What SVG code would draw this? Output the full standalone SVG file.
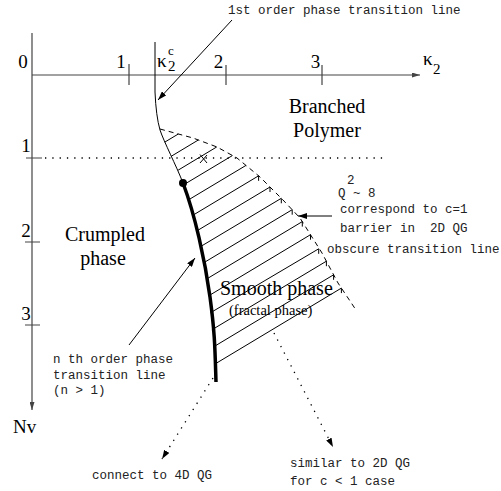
<svg xmlns="http://www.w3.org/2000/svg" width="501" height="491" viewBox="0 0 501 491">
<style>
.ax{stroke:#444;stroke-width:1.2;fill:none}
.thin{stroke:#000;stroke-width:1;fill:none}
.thick{stroke:#000;stroke-width:3.5;fill:none;stroke-linecap:butt}
.dash{stroke:#000;stroke-width:1;fill:none;stroke-dasharray:5,4}
.dot{stroke:#000;stroke-width:1.3;fill:none;stroke-dasharray:1.3,6}
.hatch{stroke:#000;stroke-width:1;fill:none}
.serif{font-family:"Liberation Serif","Times New Roman",serif;fill:#000}
.mono{font-family:"Liberation Mono","Courier New",monospace;font-size:12.5px;fill:#222}
.big{font-size:20px}
.num{font-size:19px}
</style>
<defs>
<marker id="arr" markerUnits="userSpaceOnUse" markerWidth="9" markerHeight="6" refX="9" refY="3" orient="auto">
<path d="M0,0 L9,3 L0,6 z" fill="#000"/>
</marker>
<marker id="arrAx" markerUnits="userSpaceOnUse" markerWidth="8" markerHeight="5" refX="8" refY="2.5" orient="auto">
<path d="M0,0 L8,2.5 L0,5 z" fill="#444"/>
</marker>
</defs>

<g id="axes">
<path class="ax" d="M32,75 H420" marker-end="url(#arrAx)"/>
<path class="ax" d="M32,33 V410" marker-end="url(#arrAx)"/>
<path class="ax" d="M129,64 V85 M226,65 V85 M322,65 V85"/>
<path class="ax" d="M26,158 H42 M25,242 H40 M25,325 H40"/>
<text class="serif num" x="23" y="68" text-anchor="middle">0</text>
<text class="serif num" x="121" y="68" text-anchor="middle">1</text>
<text class="serif num" x="218.5" y="68" text-anchor="middle">2</text>
<text class="serif num" x="315.5" y="68" text-anchor="middle">3</text>
<text class="serif num" x="26" y="152" text-anchor="middle">1</text>
<text class="serif num" x="26" y="237" text-anchor="middle">2</text>
<text class="serif num" x="26" y="320" text-anchor="middle">3</text>
<text class="serif" x="423" y="65" font-size="19">κ</text>
<text class="serif" x="433" y="74" font-size="15">2</text>
<text class="serif" x="13" y="433" font-size="19">Nv</text>
</g>

<g id="hatch" class="hatch">
<path d="M164.8,142.1 L178.3,134.0"/>
<path d="M171.2,156.3 L198.3,140.0"/>
<path d="M178.1,170.2 L216.8,146.9"/>
<path d="M183.6,184.8 L232.5,155.5"/>
<path d="M188.6,199.8 L246.0,165.4"/>
<path d="M192.3,215.6 L258.6,175.8 l0,5"/>
<path d="M196.5,231.1 L270.0,187.0 l0,5"/>
<path d="M200.2,246.8 L281.3,198.3 l0,5"/>
<path d="M203.5,262.9 L292.2,209.7 l0,5"/>
<path d="M206.3,279.2 L302.3,221.6 l0,5"/>
<path d="M208.7,295.8 L310.5,234.7 l0,5"/>
<path d="M210.4,312.8 L318.7,248.8 l0,5"/>
<path d="M211.9,329.8 L326.4,261.2 l0,5"/>
<path d="M213.0,347.2 L333.6,274.8 l0,5"/>
<path d="M214.0,364.6 L341.4,288.1 l0,5"/>
</g>

<g id="boundaries">
<path class="thin" d="M155,42 L155,92 Q156,116 160,130 C164,142 176,165 183,183"/>
<path class="thick" d="M183,183 C195,215 205,260 210,297 S215,350 216,382"/>
<path class="dash" d="M160,129 L193,138 L217,147 L237,158 L260,177 L283,200 L300,218 L322,253 L338,283 L356,310"/>
<path class="dot" d="M45,158 H384"/>
<path class="thin" d="M200,154.5 L207,163 M207,155 L200,163"/>
<circle cx="183" cy="183" r="4" fill="#000"/>
</g>

<g id="connectors">
<path class="thin" d="M232,20 L158,100" marker-end="url(#arr)"/>
<path class="thin" d="M332,216 L298,216" marker-end="url(#arr)"/>
<path class="thin" d="M129,345 L195,258" marker-end="url(#arr)"/>
<path class="dot" d="M213,378 L162,459" marker-end="url(#arr)"/>
<path class="dot" d="M274,333 L333,447" marker-end="url(#arr)"/>
</g>

<g id="label-kc">
<text class="serif" x="157" y="67" font-size="19">κ</text>
<text class="serif" x="168" y="71" font-size="15">2</text>
<text class="serif" x="168" y="55" font-size="13">c</text>
</g>
<g id="label-first-order">
<text class="mono" x="228" y="14">1st order phase transition line</text>
</g>
<g id="label-branched">
<text class="serif big" x="327" y="113" text-anchor="middle">Branched</text>
<text class="serif big" x="327" y="137" text-anchor="middle">Polymer</text>
</g>
<g id="label-crumpled">
<text class="serif big" x="105" y="241" text-anchor="middle">Crumpled</text>
<text class="serif big" x="103" y="265" text-anchor="middle">phase</text>
</g>
<g id="label-smooth">
<text class="serif big" x="220" y="295">Smooth phase</text>
<text class="serif" x="229" y="315" font-size="14.5">(fractal phase)</text>
</g>
<g id="label-q2">
<text class="mono" x="338" y="197">Q</text>
<text class="mono" x="347" y="184" font-size="10">2</text>
<text class="mono" x="353" y="197" xml:space="preserve">~ 8</text>
<text class="mono" x="340" y="213">correspond to c=1</text>
<text class="mono" x="340" y="232" xml:space="preserve">barrier in  2D QG</text>
</g>
<g id="label-obscure">
<text class="mono" x="327" y="253">obscure transition line</text>
</g>
<g id="label-nth">
<text class="mono" x="53" y="363">n th order phase</text>
<text class="mono" x="53" y="378.5">transition line</text>
<text class="mono" x="53" y="394">(n &gt; 1)</text>
</g>
<g id="label-4d">
<text class="mono" x="92" y="479">connect to 4D QG</text>
</g>
<g id="label-2d">
<text class="mono" x="290" y="467">similar to 2D QG</text>
<text class="mono" x="290" y="485">for c &lt; 1 case</text>
</g>
</svg>
